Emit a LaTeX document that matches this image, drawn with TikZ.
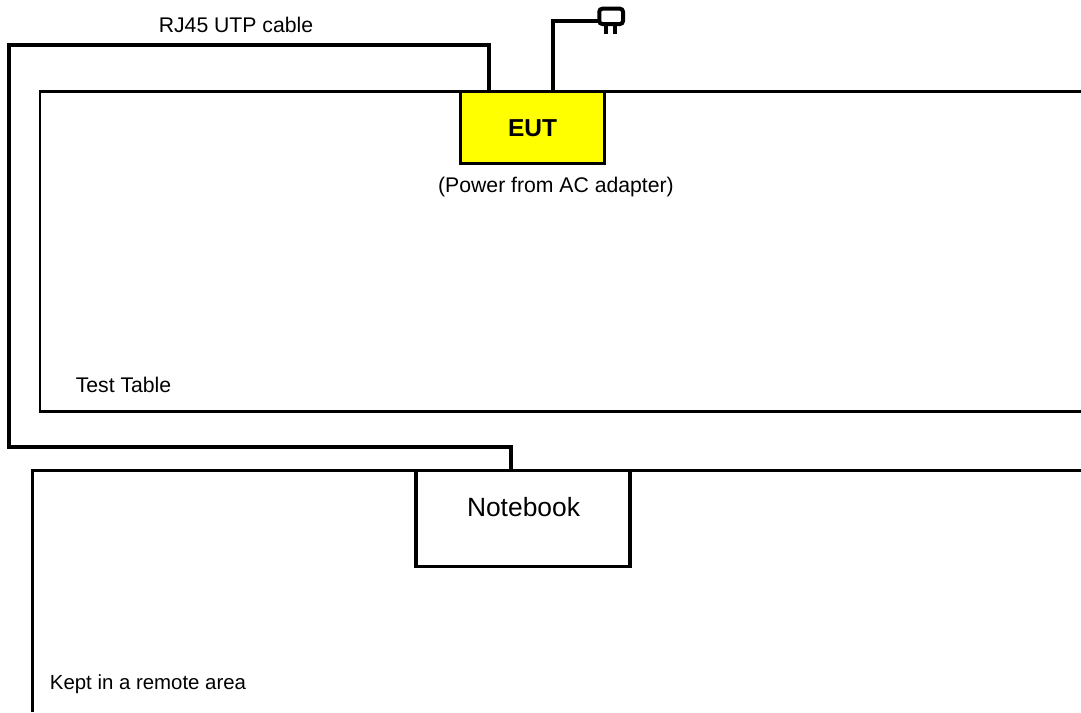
\documentclass[tikz,border=0pt]{standalone}
\usepackage{fontspec}
\setmainfont{Liberation Sans}
\tikzset{
  x=1pt,y=-1pt,
  area/.style={draw=black,line width=2.8pt,line join=miter},
  cable/.style={draw=black,line width=4pt,line join=miter},
  boxnode/.style={draw=black,line width=3.2pt,anchor=north west,inner sep=0pt,outer sep=0pt},
  lab/.style={inner sep=0pt,text=black,anchor=base},
  prong/.style={draw=black,line width=4pt},
}
\definecolor{eutyellow}{RGB}{255,255,0}
\begin{document}
\begin{tikzpicture}
\useasboundingbox (0,0) rectangle (1081,712);
% areas
\draw[area] (1081,91.7) -- (40,91.7) -- (40,411.5) -- (1081,411.5);
\draw[area] (1081,470.5) -- (32.5,470.5) -- (32.5,712);
% boxes
\node[boxnode,fill=eutyellow,minimum width=143.5pt,minimum height=71.5pt] (eut) at (460.7,91.7) {};
\node[lab,font=\bfseries\fontsize{24.5}{26}\selectfont] (eutl) at (532.5,136.5) {EUT};
\node[boxnode,fill=white,minimum width=214pt,minimum height=96pt] (nb) at (416,470.7) {};
\node[lab,font=\fontsize{26.4}{28}\selectfont] (nbl) at (523.5,516) {Notebook};
% anchors
\coordinate (c1a) at (488.5,91);
\coordinate (c1d) at (510.5,470);
\coordinate (p1) at (552.7,91);
\coordinate (p2) at (600,20.7);
% cables
\draw[cable] (c1a) -- (488.5,45) -- (9.3,45) -- (9.3,447) -- (510.5,447) -- (c1d);
\draw[cable] (p1) -- (552.7,20.7) -- (p2);
% plug
\draw[draw=black,line width=4pt,rounded corners=3pt,fill=white] (599.3,8.7) rectangle (623,24);
\draw[prong] (606.2,24) -- (606.2,34.3);
\draw[prong] (614.7,24) -- (614.7,34.3);
% labels
\node[lab,font=\fontsize{21.2}{24}\selectfont] (rj) at (236,32.5) {RJ45 UTP cable};
\node[lab,font=\fontsize{21.2}{24}\selectfont] (pw) at (556,192.5) {(Power from AC adapter)};
\node[lab,font=\fontsize{21.2}{24}\selectfont] (tt) at (123.5,392) {Test Table};
\node[lab,font=\fontsize{20.4}{24}\selectfont] (kp) at (148,689) {Kept in a remote area};
\end{tikzpicture}
\end{document}
